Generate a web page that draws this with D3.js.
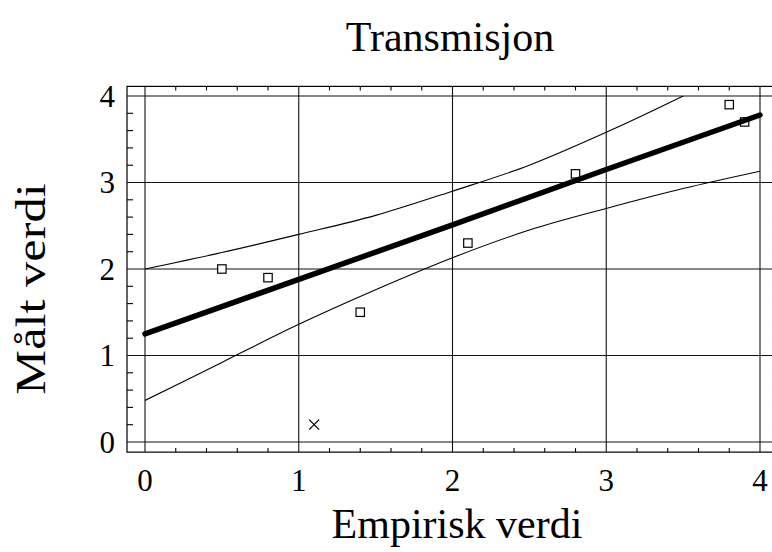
<!DOCTYPE html>
<html>
<head>
<meta charset="utf-8">
<script src="https://cdn.jsdelivr.net/npm/d3@7"></script>
<style>
html,body{margin:0;padding:0;background:#fff;}
svg{display:block;}
text{font-family:"Liberation Serif","Times New Roman",serif;fill:#000;}
</style>
</head>
<body>
<svg id="chart" width="772" height="552"></svg>
<script>
const titleText = "Transmisjon";
const xLabel = "Empirisk verdi";
const yLabel = "Målt verdi";
const xTicks = [0, 1, 2, 3, 4];
const yTicks = [0, 1, 2, 3, 4];
const minorStep = 0.2;

const measuredX = [0.5, 0.8, 1.4, 2.1, 2.8, 3.8, 3.9];
const measuredY = [2.0, 1.9, 1.5, 2.3, 3.1, 3.9, 3.7];
const outlierX = [1.1];
const outlierY = [0.2];

const fitX = [0, 1, 2, 3, 4];
const fitY = [1.25, 1.88, 2.51, 3.15, 3.78];

const bandX = [0, 0.5, 1, 1.5, 2, 2.5, 3, 3.5, 4];
const upperY = [2.0, 2.19, 2.40, 2.62, 2.90, 3.20, 3.58, 4.0, 4.45];
const lowerY = [0.48, 0.92, 1.36, 1.76, 2.13, 2.45, 2.70, 2.93, 3.13];

const svg = d3.select("#chart");
const x = d3.scaleLinear().domain([0, 4]).range([145, 760]);
const y = d3.scaleLinear().domain([0, 4]).range([442, 96]);
const pad = 0.117;
const fx0 = x(-pad), fx1 = x(4 + pad), fy0 = y(4 + pad * 0.95), fy1 = y(-pad);

svg.append("defs").append("clipPath").attr("id", "clip")
  .append("rect").attr("x", x(0)).attr("y", y(4)).attr("width", x(4) - x(0)).attr("height", y(0) - y(4));

svg.append("rect").attr("x", fx0).attr("y", fy0).attr("width", fx1 - fx0).attr("height", fy1 - fy0)
  .attr("fill", "none").attr("stroke", "#000").attr("stroke-width", 1.2);

const grid = svg.append("g").attr("stroke", "#111").attr("stroke-width", 1.1);
xTicks.forEach(t => grid.append("line").attr("x1", x(t)).attr("x2", x(t)).attr("y1", fy0).attr("y2", fy1));
yTicks.forEach(t => grid.append("line").attr("y1", y(t)).attr("y2", y(t)).attr("x1", fx0).attr("x2", fx1));

const minorX = d3.range(0, 4 + 1e-9, minorStep).filter(v => Math.abs(v - Math.round(v)) > 1e-6);
const minorYv = d3.range(0, 4 + 1e-9, minorStep).filter(v => Math.abs(v - Math.round(v)) > 1e-6);
const ticks = svg.append("g").attr("stroke", "#000").attr("stroke-width", 1.1);
minorX.forEach(t => {
  ticks.append("line").attr("x1", x(t)).attr("x2", x(t)).attr("y1", fy1).attr("y2", fy1 - 4);
  ticks.append("line").attr("x1", x(t)).attr("x2", x(t)).attr("y1", fy0).attr("y2", fy0 + 4);
});
minorYv.forEach(t => {
  ticks.append("line").attr("y1", y(t)).attr("y2", y(t)).attr("x1", fx0).attr("x2", fx0 + 6);
  ticks.append("line").attr("y1", y(t)).attr("y2", y(t)).attr("x1", fx1).attr("x2", fx1 - 6);
});

svg.append("g").selectAll("text").data(xTicks).join("text")
  .attr("x", d => x(d)).attr("y", 491).attr("text-anchor", "middle")
  .attr("font-size", 31).text(d => d);
svg.append("g").selectAll("text").data(yTicks).join("text")
  .attr("x", 115).attr("y", d => y(d) + 10.5).attr("text-anchor", "end")
  .attr("font-size", 31).text(d => d);

const line = d3.line().curve(d3.curveMonotoneX);
const bands = svg.append("g").attr("clip-path", "url(#clip)");
bands.append("path").attr("d", line(bandX.map((v, i) => [x(v), y(upperY[i])])))
  .attr("fill", "none").attr("stroke", "#000").attr("stroke-width", 1.1);
bands.append("path").attr("d", line(bandX.map((v, i) => [x(v), y(lowerY[i])])))
  .attr("fill", "none").attr("stroke", "#000").attr("stroke-width", 1.1);

svg.append("g").selectAll("rect").data(measuredX.map((v, i) => [v, measuredY[i]])).join("rect")
  .attr("x", d => x(d[0]) - 4.2).attr("y", d => y(d[1]) - 4.2)
  .attr("width", 8.4).attr("height", 8.4)
  .attr("fill", "#fff").attr("stroke", "#000").attr("stroke-width", 1.2);

const cross = svg.append("g").attr("stroke", "#000").attr("stroke-width", 1.2);
outlierX.forEach((v, i) => {
  const cx = x(v), cy = y(outlierY[i]), r = 5;
  cross.append("line").attr("x1", cx - r).attr("y1", cy - r).attr("x2", cx + r).attr("y2", cy + r);
  cross.append("line").attr("x1", cx - r).attr("y1", cy + r).attr("x2", cx + r).attr("y2", cy - r);
});

svg.append("path").attr("d", d3.line()(fitX.map((v, i) => [x(v), y(fitY[i])])))
  .attr("fill", "none").attr("stroke", "#000").attr("stroke-width", 5.5)
  .attr("stroke-linecap", "round").attr("stroke-linejoin", "round");

svg.append("text").attr("x", 450).attr("y", 51).attr("text-anchor", "middle")
  .attr("font-size", 42).text(titleText);
svg.append("text").attr("x", 457).attr("y", 538).attr("text-anchor", "middle")
  .attr("font-size", 42).text(xLabel);
svg.append("text").attr("transform", "translate(45,289) rotate(-90) scale(1.2,1)")
  .attr("text-anchor", "middle").attr("font-size", 42).text(yLabel);
</script>
</body>
</html>
